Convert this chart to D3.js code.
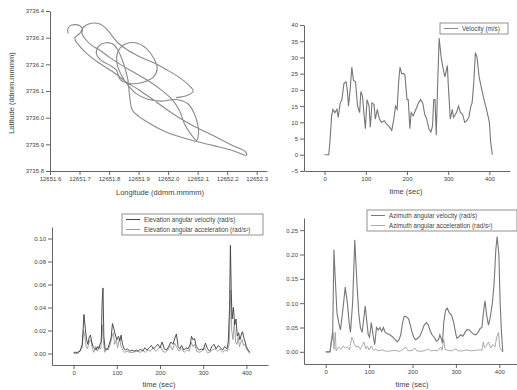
<!DOCTYPE html>
<html>
<head>
<meta charset="utf-8">
<script src="https://cdn.jsdelivr.net/npm/d3@7"></script>
<style>
  body { margin: 0; background: #fff; }
  text { font-family: "Liberation Sans", Arial, sans-serif; fill: #444; }
</style>
</head>
<body>
<svg id="fig" width="517" height="390"></svg>
<script>
// --- data ---
const trackLon = [12651.662,12651.660,12651.667,12651.684,12651.701,12651.710,12651.708,12651.718,12651.740,12651.769,
  12651.802,12651.842,12651.881,12651.926,12651.971,12652.010,12652.038,12652.055,12652.074,12652.097,
  12652.103,12652.101,12652.089,12652.066,12652.027,12651.976,12651.931,12651.892,12651.864,12651.842,
  12651.827,12651.830,12651.853,12651.890,12651.926,12651.952,12651.963,12651.951,12651.915,12651.872,
  12651.838,12651.825,12651.802,12651.772,12651.757,12651.765,12651.789,12651.813,12651.830,12651.845,
  12651.856,12651.864,12651.870,12651.879,12651.903,12651.943,12651.993,12652.061,12652.151,12652.218,
  12652.265,12652.263,12652.218,12652.151,12652.083,12652.016,12651.960,12651.903,12651.858,12651.813,
  12651.769,12651.724,12651.684,12651.701,12651.715,12651.740,12651.769,12651.793,12651.811,12651.830,
  12651.864,12651.909,12651.957,12651.993,12652.038,12652.070,12652.085,12652.066,12652.027];
const trackLat = [3736.316,3736.331,3736.344,3736.349,3736.345,3736.331,3736.316,3736.297,3736.272,3736.253,
  3736.226,3736.197,3736.172,3736.143,3736.109,3736.072,3736.028,3735.978,3735.943,3735.915,
  3735.940,3735.971,3736.015,3736.053,3736.068,3736.062,3736.069,3736.090,3736.122,3736.159,
  3736.203,3736.247,3736.275,3736.281,3736.260,3736.222,3736.184,3736.153,3736.133,3736.128,
  3736.143,3736.178,3736.197,3736.216,3736.241,3736.268,3736.281,3736.276,3736.253,3736.216,
  3736.178,3736.141,3736.078,3736.028,3736.003,3735.975,3735.946,3735.921,3735.896,3735.877,
  3735.859,3735.871,3735.896,3735.934,3735.971,3736.015,3736.059,3736.103,3736.134,3736.172,
  3736.203,3736.241,3736.297,3736.316,3736.341,3736.354,3736.351,3736.331,3736.306,3736.281,
  3736.253,3736.226,3736.203,3736.181,3736.151,3736.122,3736.100,3736.084,3736.075];

// [time (sec), value]
const velocity = [[0,0],[5,0],[10,0],[13,4],[17,12],[20,14],[25,13],[30,14],[33,11.5],[38,16],
  [42,17],[47,22],[52,22.5],[55,20],[58,15],[62,20],[66,27],[70,23],[75,22.5],[80,15],
  [85,13],[88,19.5],[92,18],[96,12],[99,8],[103,17],[108,15],[111,8.5],[115,16],[120,15.5],
  [123,11],[128,14],[133,11],[138,10],[145,10.5],[150,9.5],[158,8.5],[163,7.5],[168,11],[172,15],
  [176,14],[180,23],[183,27],[187,25],[192,25],[195,24.5],[200,17],[203,17],[207,8],[210,13],
  [215,12],[220,13.5],[228,16],[233,17],[238,16],[243,12.5],[248,11],[253,8],[258,7],[262,9],
  [265,17],[268,17],[271,6],[274,20],[278,36],[283,30],[287,27],[292,24],[298,27.5],[300,22],
  [305,11],[310,14],[313,11.5],[320,13],[325,15],[330,13],[335,12.5],[340,10],[345,10.5],[350,11.5],
  [355,15],[358,16],[362,22],[366,31.5],[370,30],[375,24],[380,21],[385,18],[393,14],[400,10],
  [403,4],[407,0]];

const elevVelocity = [[0,0.001],[5,0.001],[10,0.001],[15,0.002],[20,0.008],[24,0.034],[27,0.022],[30,0.012],
  [33,0.008],[36,0.014],[39,0.016],[42,0.010],[45,0.006],[48,0.005],[52,0.003],[55,0.006],[58,0.004],
  [61,0.008],[64,0.010],[66,0.044],[68,0.057],[70,0.015],[73,0.004],[77,0.003],[80,0.005],[84,0.010],
  [87,0.014],[90,0.026],[93,0.022],[96,0.017],[100,0.012],[104,0.015],[107,0.011],[110,0.016],[113,0.008],
  [117,0.004],[121,0.003],[125,0.004],[130,0.002],[135,0.003],[140,0.002],[145,0.003],[150,0.002],
  [155,0.004],[160,0.002],[165,0.005],[170,0.003],[175,0.005],[180,0.007],[185,0.004],[190,0.006],
  [195,0.008],[200,0.005],[205,0.010],[210,0.004],[215,0.003],[220,0.006],[225,0.010],[230,0.008],
  [235,0.014],[238,0.017],[242,0.006],[246,0.004],[250,0.007],[255,0.003],[260,0.005],[265,0.004],
  [270,0.008],[273,0.015],[276,0.012],[280,0.013],[284,0.006],[288,0.004],[292,0.003],[296,0.004],
  [300,0.003],[305,0.009],[310,0.004],[315,0.002],[320,0.006],[325,0.008],[330,0.004],[335,0.007],
  [340,0.005],[345,0.003],[350,0.006],[355,0.004],[358,0.010],[361,0.040],[363,0.094],[365,0.052],
  [367,0.030],[370,0.040],[373,0.025],[376,0.030],[379,0.015],[382,0.018],[385,0.012],[388,0.016],
  [391,0.019],[394,0.014],[397,0.010],[400,0.006],[404,0.003],[408,0.001]];

const elevAccel = [[0,0],[10,0],[15,0.003],[20,0.005],[23,0.020],[26,0.015],[29,0.006],[32,0.004],
  [36,0.010],[40,0.012],[43,0.005],[47,0.001],[51,0.006],[55,0.002],[59,0.006],[63,0.004],[66,0.025],
  [69,0.010],[72,0.001],[76,0.005],[80,0.003],[85,0.008],[89,0.015],[92,0.018],[95,0.008],[99,0.012],
  [102,0.005],[106,0.013],[110,0.006],[114,0.003],[118,0.001],[124,0.002],[130,0.001],[138,0.001],
  [146,0.002],[154,0.001],[160,0.003],[166,0.001],[172,0.003],[178,0.002],[184,0.005],[190,0.002],
  [196,0.004],[202,0.006],[206,0.002],[212,0.001],[218,0.003],[224,0.007],[229,0.003],[234,0.009],
  [239,0.005],[244,0.002],[250,0.004],[256,0.001],[262,0.003],[268,0.002],[272,0.010],[276,0.006],
  [280,0.008],[285,0.002],[291,0.001],[297,0.002],[303,0.005],[309,0.001],[315,0.001],[321,0.003],
  [327,0.004],[333,0.002],[339,0.004],[345,0.001],[351,0.003],[356,0.002],[360,0.008],[362,0.030],
  [364,0.055],[366,0.020],[369,0.012],[372,0.028],[375,0.010],[378,0.008],[381,0.014],[384,0.006],
  [387,0.010],[390,0.012],[393,0.007],[396,0.008],[400,0.004],[404,0.002],[408,0]];

const aziVelocity = [[0,0],[10,0],[13,0.02],[16,0.03],[19,0.21],[22,0.15],[26,0.08],[30,0.06],[34,0.045],
  [40,0.09],[45,0.133],[50,0.10],[54,0.06],[57,0.04],[62,0.10],[67,0.23],[72,0.14],[76,0.08],[80,0.05],
  [84,0.04],[88,0.07],[91,0.094],[95,0.06],[98,0.035],[101,0.03],[105,0.06],[110,0.03],[113,0.015],
  [117,0.05],[121,0.045],[125,0.05],[129,0.042],[133,0.05],[137,0.04],[142,0.037],[148,0.035],
  [155,0.030],[160,0.025],[165,0.021],[169,0.025],[173,0.035],[177,0.06],[181,0.073],[186,0.072],
  [191,0.068],[195,0.055],[199,0.04],[203,0.03],[207,0.025],[212,0.028],[217,0.032],[222,0.043],
  [227,0.055],[232,0.06],[236,0.056],[240,0.045],[245,0.035],[250,0.03],[255,0.022],[260,0.025],
  [263,0.035],[266,0.028],[269,0.018],[272,0.06],[276,0.085],[280,0.09],[285,0.08],[290,0.075],
  [295,0.06],[299,0.04],[302,0.028],[306,0.03],[311,0.035],[316,0.032],[321,0.04],[326,0.046],
  [331,0.045],[336,0.04],[341,0.036],[346,0.035],[351,0.04],[356,0.048],[360,0.05],[364,0.085],
  [367,0.105],[371,0.075],[375,0.055],[379,0.07],[384,0.10],[388,0.14],[392,0.21],[395,0.237],
  [399,0.2],[402,0.1],[405,0.04],[408,0]];

const aziAccel = [[0,0],[10,0],[14,0.035],[17,0.04],[19,0.005],[22,0.04],[24,0.002],[30,0.01],[35,0.005],
  [40,0.012],[45,0.008],[50,0.01],[55,0.004],[60,0.03],[63,0.025],[66,0.015],[70,0.01],[75,0.012],
  [80,0.005],[85,0.015],[88,0.02],[92,0.006],[96,0.012],[100,0.004],[105,0.012],[110,0.003],[115,0.006],
  [120,0.002],[130,0.004],[140,0.001],[150,0.002],[160,0.003],[170,0.001],[180,0.006],[184,0.01],
  [190,0.002],[200,0.003],[205,0.008],[210,0.002],[220,0.001],[230,0.003],[236,0.006],[242,0.002],
  [250,0.003],[258,0.002],[265,0.01],[268,0.003],[272,0.025],[275,0.005],[282,0.003],[290,0.002],
  [300,0.006],[305,0.002],[315,0.002],[325,0.004],[335,0.002],[345,0.003],[355,0.004],[360,0.003],
  [363,0.02],[366,0.008],[370,0.012],[375,0.02],[380,0.008],[385,0.015],[390,0.01],[394,0.03],
  [398,0.04],[401,0.01],[405,0.003],[408,0]];

const lonTicks = [12651.6,12651.7,12651.8,12651.9,12652.0,12652.1,12652.2,12652.3];
const latTicks = [3735.8,3735.9,3736.0,3736.1,3736.2,3736.3,3736.4];
const timeTicks = [0,100,200,300,400];
const velTicks = [-5,0,5,10,15,20,25,30,35,40];
const elevTicks = [0,0.02,0.04,0.06,0.08,0.10];
const aziTicks = [0,0.05,0.10,0.15,0.20,0.25];
const timeMinor = [50,150,250,350];

const svg = d3.select("#fig");
const axisColor = "#555";

// draws both axes of one panel, with major and minor ticks
function drawAxes(x, y, xt, yt, xMinor, yMinor, xFmt, yFmt) {
  const [x0] = x.range();
  const [y0] = y.range();
  const gx = svg.append("g").attr("transform", "translate(0," + y0 + ")");
  gx.call(d3.axisBottom(x).tickValues(xMinor).tickSize(2).tickSizeOuter(0).tickFormat(""));
  gx.call(d3.axisBottom(x).tickValues(xt).tickSize(4).tickSizeOuter(0).tickPadding(2).tickFormat(xFmt));
  const gy = svg.append("g").attr("transform", "translate(" + x0 + ",0)");
  gy.call(d3.axisLeft(y).tickValues(yMinor).tickSize(2).tickSizeOuter(0).tickFormat(""));
  gy.call(d3.axisLeft(y).tickValues(yt).tickSize(4).tickSizeOuter(0).tickPadding(2).tickFormat(yFmt));
  [gx, gy].forEach(g => {
    g.attr("font-size", 6).attr("font-family", null);
    g.selectAll("path, line").attr("stroke", axisColor).attr("stroke-width", 0.9);
    g.selectAll("text").attr("fill", "#444");
  });
}

function mids(ticks) {
  const out = [];
  for (let i = 0; i < ticks.length - 1; i++) out.push((ticks[i] + ticks[i + 1]) / 2);
  return out;
}

function title(txt, xPos, yPos, rotate) {
  const t = svg.append("text").attr("font-size", 7.5).attr("fill", "#444")
    .attr("text-anchor", "middle").text(txt);
  if (rotate) t.attr("transform", "translate(" + xPos + "," + yPos + ")rotate(-90)");
  else t.attr("x", xPos).attr("y", yPos);
}

function legend(x0, y0, w, items) {
  const h = items.length * 10 + 1;
  svg.append("rect").attr("x", x0).attr("y", y0).attr("width", w).attr("height", h)
    .attr("fill", "#fff").attr("stroke", "#777").attr("stroke-width", 0.8);
  items.forEach((it, i) => {
    const cy = y0 + 5.5 + i * 10;
    svg.append("line").attr("x1", x0 + 4).attr("x2", x0 + 18).attr("y1", cy).attr("y2", cy)
      .attr("stroke", it.color).attr("stroke-width", 1);
    svg.append("text").attr("x", x0 + 22).attr("y", cy + 2).attr("font-size", 6.3)
      .attr("fill", "#444").text(it.label);
  });
}

// --- panel 1: track ---
const x1 = d3.scaleLinear().domain([12651.6, 12652.335]).range([50, 267]);
const y1 = d3.scaleLinear().domain([3735.8, 3736.4]).range([171, 11]);
drawAxes(x1, y1, lonTicks, latTicks, mids(lonTicks), mids(latTicks), d3.format(".1f"), d3.format(".1f"));
svg.append("path")
  .datum(trackLon.map((v, i) => [v, trackLat[i]]))
  .attr("fill", "none").attr("stroke", "#8a8a8a").attr("stroke-width", 1.1)
  .attr("d", d3.line().x(d => x1(d[0])).y(d => y1(d[1])).curve(d3.curveCatmullRom));
title("Longitude (ddmm.mmmm)", 160, 195);
title("Latitude (ddmm.mmmm)", 14, 93, true);

// --- panel 2: velocity ---
const x2 = d3.scaleLinear().domain([-50, 450]).range([304, 510]);
const y2 = d3.scaleLinear().domain([-5, 40]).range([171, 25]);
drawAxes(x2, y2, timeTicks, velTicks, timeMinor, mids(velTicks), d3.format("d"), d3.format("d"));
svg.append("path").datum(velocity)
  .attr("fill", "none").attr("stroke", "#777").attr("stroke-width", 1.1)
  .attr("d", d3.line().x(d => x2(d[0])).y(d => y2(d[1])));
legend(440, 23, 68, [{ label: "Velocity (m/s)", color: "#888" }]);
title("time (sec)", 406, 194);

// --- panel 3: elevation ---
const x3 = d3.scaleLinear().domain([-50, 450]).range([52, 268]);
const y3 = d3.scaleLinear().domain([-0.01, 0.11]).range([365, 227]);
drawAxes(x3, y3, timeTicks, elevTicks, timeMinor, mids(elevTicks), d3.format("d"), d3.format(".2f"));
svg.append("path").datum(elevAccel)
  .attr("fill", "none").attr("stroke", "#9a9a9a").attr("stroke-width", 0.9)
  .attr("d", d3.line().x(d => x3(d[0])).y(d => y3(d[1])));
svg.append("path").datum(elevVelocity)
  .attr("fill", "none").attr("stroke", "#3c3c3c").attr("stroke-width", 0.9)
  .attr("d", d3.line().x(d => x3(d[0])).y(d => y3(d[1])));
legend(122, 214, 141, [
  { label: "Elevation angular velocity (rad/s)", color: "#444" },
  { label: "Elevation angular acceleration (rad/s\u00b2)", color: "#999" }
]);
title("time (sec)", 159, 387);

// --- panel 4: azimuth ---
const x4 = d3.scaleLinear().domain([-50, 450]).range([304, 521]);
const y4 = d3.scaleLinear().domain([-0.025, 0.275]).range([364, 218]);
drawAxes(x4, y4, timeTicks, aziTicks, timeMinor, mids(aziTicks), d3.format("d"), d3.format(".2f"));
svg.append("path").datum(aziAccel)
  .attr("fill", "none").attr("stroke", "#a0a0a0").attr("stroke-width", 0.9)
  .attr("d", d3.line().x(d => x4(d[0])).y(d => y4(d[1])));
svg.append("path").datum(aziVelocity)
  .attr("fill", "none").attr("stroke", "#777").attr("stroke-width", 1.1)
  .attr("d", d3.line().x(d => x4(d[0])).y(d => y4(d[1])));
legend(367, 210, 150, [
  { label: "Azimuth angular velocity (rad/s)", color: "#777" },
  { label: "Azimuth angular acceleration (rad/s\u00b2)", color: "#aaa" }
]);
title("time (sec)", 412, 387);
</script>
</body>
</html>
